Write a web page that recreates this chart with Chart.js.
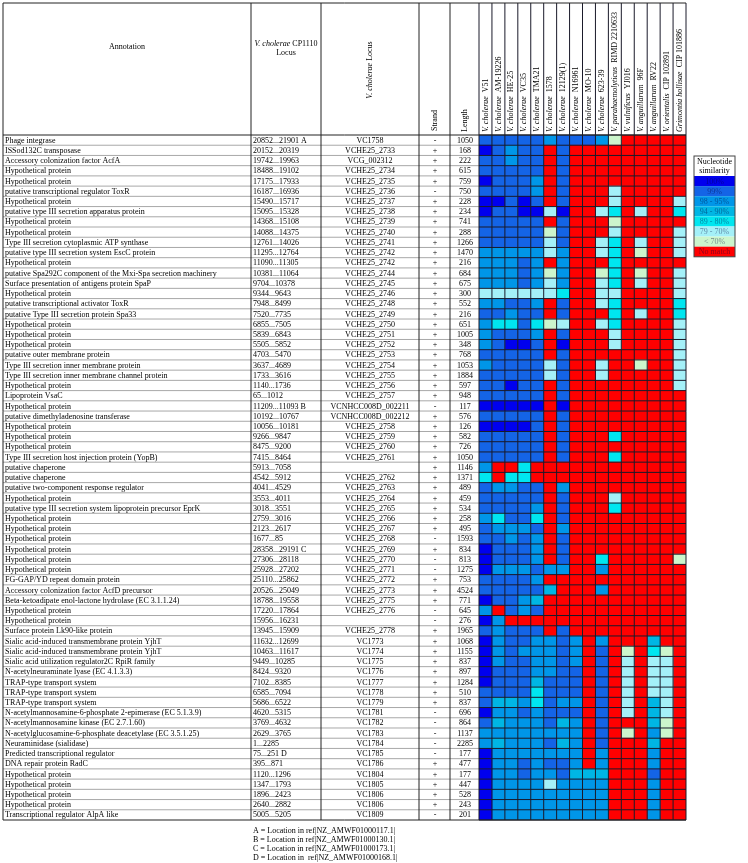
<!DOCTYPE html>
<html>
<head>
<meta charset="utf-8">
<script src="https://cdn.jsdelivr.net/npm/chart.js@4.4.0/dist/chart.umd.min.js"></script>
<style>
  html, body { margin: 0; padding: 0; background: #fff; }
  canvas { display: block; }
</style>
</head>
<body>
<canvas id="heatmap" width="748" height="863"></canvas>
<script>
const annotations = [
  'Phage integrase', 'ISSod132C transposase', 'Accessory colonization factor AcfA', 'Hypothetical protein',
  'Hypothetical protein', 'putative transcriptional regulator ToxR', 'Hypothetical protein',
  'putative type III secretion apparatus protein', 'Hypothetical protein', 'Hypothetical protein',
  'Type III secretion cytoplasmic ATP synthase', 'putative type III secretion system EscC protein',
  'Hypothetical protein', 'putative Spa292C component of the Mxi-Spa secretion machinery',
  'Surface presentation of antigens protein SpaP', 'Hypothetical protein', 'putative transcriptional activator ToxR',
  'putative Type III secretion protein Spa33', 'Hypothetical protein', 'Hypothetical protein', 'Hypothetical protein',
  'putative outer membrane protein', 'Type III secretion inner membrane protein',
  'Type III secretion inner membrane channel protein', 'Hypothetical protein', 'Lipoprotein VsaC',
  'Hypothetical protein', 'putative dimethyladenosine transferase', 'Hypothetical protein', 'Hypothetical protein',
  'Hypothetical protein', 'Type III secretion host injection protein (YopB)', 'putative chaperone', 'putative chaperone',
  'putative two-component response regulator', 'Hypothetical protein',
  'putative type III secretion system lipoprotein precursor EprK', 'Hypothetical protein', 'Hypothetical protein',
  'Hypothetical protein', 'Hypothetical protein', 'Hypothetical protein', 'Hypothetical protein',
  'FG-GAP/YD repeat domain protein', 'Accessory colonization factor AcfD precursor',
  'Beta-ketoadipate enol-lactone hydrolase (EC 3.1.1.24)', 'Hypothetical protein', 'Hypothetical protein',
  'Surface protein Lk90-like protein', 'Sialic acid-induced transmembrane protein YjhT',
  'Sialic acid-induced transmembrane protein YjhT', 'Sialic acid utilization regulator2C RpiR family',
  'N-acetylneuraminate lyase (EC 4.1.3.3)', 'TRAP-type transport system', 'TRAP-type transport system',
  'TRAP-type transport system', 'N-acetylmannosamine-6-phosphate 2-epimerase (EC 5.1.3.9)',
  'N-acetylmannosamine kinase (EC 2.7.1.60)', 'N-acetylglucosamine-6-phosphate deacetylase (EC 3.5.1.25)',
  'Neuraminidase (sialidase)', 'Predicted transcriptional regulator', 'DNA repair protein RadC',
  'Hypothetical protein', 'Hypothetical protein', 'Hypothetical protein', 'Hypothetical protein',
  'Transcriptional regulator AlpA like'
];
const cp1110Locus = [
  '20852...21901 A', '20152...20319', '19742...19963', '18488...19102', '17175...17933', '16187...16936',
  '15490...15717', '15095...15328', '14368...15108', '14088...14375', '12761...14026', '11295...12764',
  '11090...11305', '10381...11064', '9704...10378', '9344...9643', '7948...8499', '7520...7735', '6855...7505',
  '5839...6843', '5505...5852', '4703...5470', '3637...4689', '1733...3616', '1140...1736', '65...1012',
  '11209...11093 B', '10192...10767', '10056...10181', '9266...9847', '8475...9200', '7415...8464',
  '5913...7058', '4542...5912', '4041...4529', '3553...4011', '3018...3551', '2759...3016', '2123...2617',
  '1677...85', '28358...29191 C', '27306...28118', '25928...27202', '25110...25862', '20526...25049',
  '18788...19558', '17220...17864', '15956...16231', '13945...15909', '11632...12699', '10463...11617',
  '9449...10285', '8424...9320', '7102...8385', '6585...7094', '5686...6522', '4620...5315', '3769...4632',
  '2629...3765', '1...2285', '75...251 D', '395...871', '1120...1296', '1347...1793', '1896...2423',
  '2640...2882', '5005...5205'
];
const choleraeLocus = [
  'VC1758', 'VCHE25_2733', 'VCG_002312', 'VCHE25_2734', 'VCHE25_2735', 'VCHE25_2736', 'VCHE25_2737',
  'VCHE25_2738', 'VCHE25_2739', 'VCHE25_2740', 'VCHE25_2741', 'VCHE25_2742', 'VCHE25_2742', 'VCHE25_2744',
  'VCHE25_2745', 'VCHE25_2746', 'VCHE25_2748', 'VCHE25_2749', 'VCHE25_2750', 'VCHE25_2751', 'VCHE25_2752',
  'VCHE25_2753', 'VCHE25_2754', 'VCHE25_2755', 'VCHE25_2756', 'VCHE25_2757', 'VCNHCC008D_002211',
  'VCNHCC008D_002212', 'VCHE25_2758', 'VCHE25_2759', 'VCHE25_2760', 'VCHE25_2761', '', 'VCHE25_2762',
  'VCHE25_2763', 'VCHE25_2764', 'VCHE25_2765', 'VCHE25_2766', 'VCHE25_2767', 'VCHE25_2768', 'VCHE25_2769',
  'VCHE25_2770', 'VCHE25_2771', 'VCHE25_2772', 'VCHE25_2773', 'VCHE25_2775', 'VCHE25_2776', '',
  'VCHE25_2778', 'VC1773', 'VC1774', 'VC1775', 'VC1776', 'VC1777', 'VC1778', 'VC1779', 'VC1781', 'VC1782',
  'VC1783', 'VC1784', 'VC1785', 'VC1786', 'VC1804', 'VC1805', 'VC1806', 'VC1806', 'VC1809'
];
const strand = [
  '-', '+', '+', '+', '+', '-', '+', '+', '+', '+', '+', '+', '+', '+', '+', '+', '+', '+', '+', '+', '+', '+',
  '+', '+', '+', '+', '-', '+', '+', '+', '+', '+', '+', '+', '+', '+', '+', '+', '+', '-', '+', '-', '-', '+',
  '+', '+', '-', '-', '+', '+', '+', '+', '+', '+', '+', '+', '-', '-', '-', '-', '-', '+', '+', '+', '+', '+', '-'
];
const lengths = [
  1050, 168, 222, 615, 759, 750, 228, 234, 741, 288, 1266, 1470, 216, 684, 675, 300, 552, 216, 651, 1005, 348,
  768, 1053, 1884, 597, 948, 117, 576, 126, 582, 726, 1050, 1146, 1371, 489, 459, 534, 258, 495, 1593, 834, 813,
  1275, 753, 4524, 771, 645, 276, 1965, 1068, 1155, 837, 897, 1284, 510, 837, 696, 864, 1137, 2285, 177, 477,
  177, 447, 528, 243, 201
];
const strainSpecies = [
  'V. cholerae', 'V. cholerae', 'V. cholerae', 'V. cholerae', 'V. cholerae', 'V. cholerae', 'V. cholerae',
  'V. cholerae', 'V. cholerae', 'V. cholerae', 'V. parahaemolyticus', 'V. vulnificus', 'V. anguillarum',
  'V. anguillarum', 'V. orientalis', 'Grimontia hollisae'
];
const strainIds = [
  'V51', 'AM-19226', 'HE-25', 'VC35', 'TMA21', '1578', '12129(1)', 'N16961', 'MO-10', '623-39',
  'RIMD 2210633', 'YJ016', '96F', 'RV22', 'CIP 102891', 'CIP 101886'
];
const similarityClasses = ['100%', '99%', '98 - 95%', '94 - 90%', '89 - 80%', '79 - 70%', '< 70%', 'No match'];
// class index per gene (row) and strain (column)
const similarity = [
  [1,1,1,1,1,2,1,1,1,2,6,7,7,7,7,7],
  [0,1,2,1,1,7,1,7,7,7,7,7,7,7,7,7],
  [1,1,2,1,1,7,1,7,7,7,7,7,7,7,7,7],
  [1,1,1,1,1,7,1,7,7,7,7,7,7,7,7,7],
  [0,1,1,1,2,7,1,7,7,7,7,7,7,7,7,7],
  [1,1,1,1,2,7,1,7,7,7,5,7,7,7,7,7],
  [0,0,1,0,1,7,1,7,7,7,5,7,7,7,7,5],
  [0,1,1,0,0,5,0,7,7,5,4,7,5,7,7,4],
  [1,1,1,1,1,7,1,7,7,7,6,7,7,7,7,7],
  [1,1,1,1,1,6,1,7,7,7,5,7,7,7,7,5],
  [1,1,1,1,1,5,1,7,7,5,4,7,5,7,7,5],
  [2,2,2,2,2,5,2,7,7,5,4,7,6,7,7,5],
  [2,2,2,1,2,7,2,7,7,7,4,7,7,7,7,7],
  [2,2,2,1,2,6,2,7,7,6,4,7,6,7,7,5],
  [2,2,2,1,2,5,2,7,7,5,4,7,5,7,7,5],
  [5,5,5,5,5,5,4,7,7,5,5,7,7,7,7,5],
  [2,2,1,1,2,7,1,7,7,5,4,7,7,7,7,4],
  [1,1,2,1,1,7,1,7,7,7,4,7,5,7,7,4],
  [2,4,4,1,4,6,5,7,7,5,4,7,7,7,7,5],
  [2,1,1,1,2,7,1,7,7,7,5,7,7,7,7,5],
  [2,1,0,0,1,7,0,7,7,7,5,7,7,7,7,5],
  [1,1,1,1,1,7,1,7,7,7,7,7,7,7,7,5],
  [2,1,1,1,1,5,1,7,7,5,7,7,6,7,7,5],
  [1,1,1,1,1,5,1,7,7,5,7,7,7,7,7,5],
  [1,1,0,1,1,7,1,7,7,7,7,7,7,7,7,5],
  [1,1,1,1,1,7,1,7,7,7,7,7,7,7,7,7],
  [0,0,0,0,0,7,0,7,7,7,7,7,7,7,7,7],
  [1,1,1,1,1,7,1,7,7,7,7,7,7,7,7,7],
  [0,0,0,0,1,7,1,7,7,7,7,7,7,7,7,7],
  [1,1,1,1,1,7,1,7,7,7,4,7,7,7,7,7],
  [1,1,1,1,1,7,1,7,7,7,7,7,7,7,7,7],
  [1,1,1,1,1,7,1,7,7,7,4,7,7,7,7,7],
  [2,7,7,4,7,7,7,7,7,7,7,7,7,7,7,7],
  [4,7,4,4,7,7,7,7,7,7,7,7,7,7,7,7],
  [1,2,2,1,1,7,2,7,7,7,7,7,7,7,7,7],
  [1,1,1,1,1,7,1,7,7,7,5,7,7,7,7,7],
  [1,1,1,1,2,7,1,7,7,7,4,7,7,7,7,7],
  [2,4,1,1,4,7,1,7,7,7,7,7,7,7,7,7],
  [1,2,2,2,1,7,2,7,7,7,7,7,7,7,7,7],
  [1,1,2,1,2,7,1,7,7,7,7,7,7,7,7,7],
  [0,1,1,1,2,7,1,7,7,7,7,7,7,7,7,7],
  [0,1,1,1,2,7,1,7,7,4,7,7,7,7,7,6],
  [0,2,2,2,1,2,2,7,7,2,7,7,7,7,7,7],
  [1,1,1,1,2,7,7,7,7,7,7,7,7,7,7,7],
  [1,1,1,1,1,3,7,7,7,2,7,7,7,7,7,7],
  [0,1,1,2,3,7,7,7,7,7,7,7,7,7,7,7],
  [2,7,1,2,1,7,7,7,7,7,7,7,7,7,7,7],
  [0,2,7,7,7,7,7,7,7,7,7,7,7,7,7,7],
  [1,2,1,1,1,7,1,7,7,7,7,7,7,7,7,7],
  [0,2,1,1,2,2,1,2,7,2,7,7,7,3,7,7],
  [0,2,1,2,2,2,1,2,7,1,7,6,7,4,6,7],
  [0,2,1,1,2,2,1,2,7,1,7,5,7,5,5,7],
  [0,1,1,1,2,2,1,1,7,1,7,5,7,5,5,7],
  [0,1,1,1,3,1,1,1,7,1,7,5,7,5,5,7],
  [1,1,1,1,4,1,1,1,7,1,7,5,7,5,5,7],
  [1,3,3,2,4,1,2,2,7,1,7,5,7,3,5,7],
  [0,2,2,1,2,1,1,1,7,1,7,5,7,3,5,7],
  [1,3,2,2,2,1,3,2,7,1,7,7,7,3,6,7],
  [2,2,2,2,2,2,2,2,7,1,7,6,7,2,6,7],
  [2,3,2,2,2,1,3,2,7,1,7,7,7,3,7,7],
  [0,2,2,2,2,2,2,2,7,2,7,7,7,2,7,7],
  [0,2,2,1,2,1,1,2,7,2,7,7,7,2,7,7],
  [0,2,2,1,2,2,1,3,3,3,7,7,7,1,7,7],
  [0,2,2,2,2,5,2,2,2,2,7,7,7,2,7,7],
  [0,2,2,2,2,2,2,2,2,2,7,7,7,2,7,7],
  [0,2,2,2,2,2,2,2,2,2,7,7,7,2,7,7],
  [0,2,2,2,2,2,2,2,2,2,7,7,7,2,7,7]
];
const footnotes = [
  'A = Location in ref|NZ_AMWF01000117.1|',
  'B = Location in ref|NZ_AMWF01000130.1|',
  'C = Location in ref|NZ_AMWF01000173.1|',
  'D = Location in  ref|NZ_AMWF01000168.1|'
];

const palette = ['#0000ee', '#1464e6', '#0096e8', '#00b6e4', '#00e6f0', '#a4f0f8', '#ccf5cc', '#ff0000'];
const FONT = '"Liberation Serif", "Times New Roman", serif';
const tableLeft = 3;
const tableTop = 3;
const textCols = [3, 251, 321, 419, 450]; // left edges of the text columns

function line(ctx, x1, y1, x2, y2) {
  ctx.beginPath();
  ctx.moveTo(x1, y1);
  ctx.lineTo(x2, y2);
  ctx.stroke();
}

// draws mixed italic/regular text, either horizontally or rotated
function mixedText(ctx, parts, x, y, align, rotate) {
  ctx.save();
  ctx.translate(x, y);
  if (rotate) ctx.rotate(-Math.PI / 2);
  let total = 0;
  const widths = parts.map(p => {
    ctx.font = (p.italic ? 'italic ' : '') + '8px ' + FONT;
    const w = ctx.measureText(p.text).width;
    total += w;
    return w;
  });
  let cx = align === 'center' ? -total / 2 : 0;
  ctx.textAlign = 'left';
  ctx.textBaseline = 'middle';
  parts.forEach((p, i) => {
    ctx.font = (p.italic ? 'italic ' : '') + '8px ' + FONT;
    ctx.fillText(p.text, cx, 0);
    cx += widths[i];
  });
  ctx.restore();
}

const tablePlugin = {
  id: 'tableText',
  afterDatasetsDraw(chart) {
    const ctx = chart.ctx;
    const xs = chart.scales.x;
    const ys = chart.scales.y;
    const area = chart.chartArea;
    const n = annotations.length;
    const rowH = (area.bottom - area.top) / n;
    ctx.save();
    ctx.lineWidth = 1;

    // row separators in the text part
    ctx.strokeStyle = '#a8a8a8';
    for (let i = 1; i < n; i++) {
      const yy = ys.getPixelForValue(i) - rowH / 2;
      line(ctx, tableLeft, yy, area.left, yy);
    }
    // heatmap cell grid
    ctx.strokeStyle = '#1a1a2a';
    for (let i = 0; i <= n; i++) {
      const yy = area.top + i * rowH;
      line(ctx, area.left, yy, area.right, yy);
    }
    for (let j = 0; j <= strainIds.length; j++) {
      const xx = xs.getPixelForValue(j);
      line(ctx, xx, tableTop, xx, area.bottom);
    }
    // table frame and text column borders
    ctx.strokeStyle = '#222';
    textCols.forEach(xx => line(ctx, xx, tableTop, xx, area.bottom));
    line(ctx, tableLeft, tableTop, area.right, tableTop);
    line(ctx, tableLeft, area.top, area.right, area.top);
    line(ctx, tableLeft, area.bottom, area.right, area.bottom);

    // row texts
    ctx.fillStyle = '#000';
    ctx.font = '8px ' + FONT;
    ctx.textBaseline = 'middle';
    for (let i = 0; i < n; i++) {
      const yy = ys.getPixelForValue(i) + 0.5;
      ctx.textAlign = 'left';
      ctx.fillText(annotations[i], 5, yy);
      ctx.fillText(cp1110Locus[i], 253, yy);
      ctx.textAlign = 'center';
      ctx.fillText(choleraeLocus[i], 370, yy);
      ctx.fillText(strand[i], 435, yy);
      ctx.fillText(String(lengths[i]), 465, yy);
    }

    // header
    mixedText(ctx, [{ text: 'Annotation' }], 127, 47, 'center', false);
    mixedText(ctx, [{ text: 'V. cholerae', italic: true }, { text: ' CP1110' }], 286, 44, 'center', false);
    mixedText(ctx, [{ text: 'Locus' }], 286, 53, 'center', false);
    mixedText(ctx, [{ text: 'V. cholerae', italic: true }, { text: ' Locus' }], 370, 70, 'center', true);
    mixedText(ctx, [{ text: 'Strand' }], 435, 131, 'left', true);
    mixedText(ctx, [{ text: 'Length' }], 465, 132, 'left', true);
    strainIds.forEach((id, j) => {
      const cx = xs.getPixelForValue(j + 0.5);
      mixedText(ctx, [{ text: strainSpecies[j], italic: true }, { text: '  ' + id }], cx, 132, 'left', true);
    });

    // footnotes
    ctx.fillStyle = '#000';
    ctx.font = '8px ' + FONT;
    ctx.textAlign = 'left';
    footnotes.forEach((t, k) => ctx.fillText(t, 253, area.bottom + 11 + k * 8.9));

    // similarity legend
    const lx = 694, lw = 41, ly = 156, headH = 20, itemH = 10.1;
    ctx.fillStyle = '#fff';
    ctx.fillRect(lx, ly, lw, headH);
    ctx.fillStyle = '#000';
    ctx.textAlign = 'center';
    ctx.fillText('Nucleotide', lx + lw / 2, ly + 5.5);
    ctx.fillText('similarity', lx + lw / 2, ly + 14.5);
    similarityClasses.forEach((label, k) => {
      const yy = ly + headH + k * itemH;
      ctx.fillStyle = palette[k];
      ctx.fillRect(lx, yy, lw, itemH);
      ctx.fillStyle = 'rgba(0, 0, 60, 0.45)';
      ctx.fillText(label, lx + lw / 2, yy + itemH / 2 + 0.5);
    });
    ctx.strokeStyle = '#444';
    ctx.strokeRect(lx, ly, lw, headH + similarityClasses.length * itemH);
    ctx.restore();
  }
};

const datasets = strainIds.map((id, j) => ({
  label: strainSpecies[j] + ' ' + id,
  data: annotations.map(() => 1),
  backgroundColor: similarity.map(row => palette[row[j]]),
  borderWidth: 0,
  barPercentage: 1,
  categoryPercentage: 1
}));

new Chart(document.getElementById('heatmap').getContext('2d'), {
  type: 'bar',
  data: { labels: annotations, datasets: datasets },
  options: {
    responsive: false,
    animation: false,
    indexAxis: 'y',
    layout: { padding: { left: 479, right: 62, top: 135, bottom: 43 } },
    scales: {
      x: { type: 'linear', min: 0, max: strainIds.length, stacked: true, display: false },
      y: { stacked: true, display: false }
    },
    plugins: {
      legend: { display: false },
      tooltip: { enabled: false }
    }
  },
  plugins: [tablePlugin]
});
</script>
</body>
</html>
